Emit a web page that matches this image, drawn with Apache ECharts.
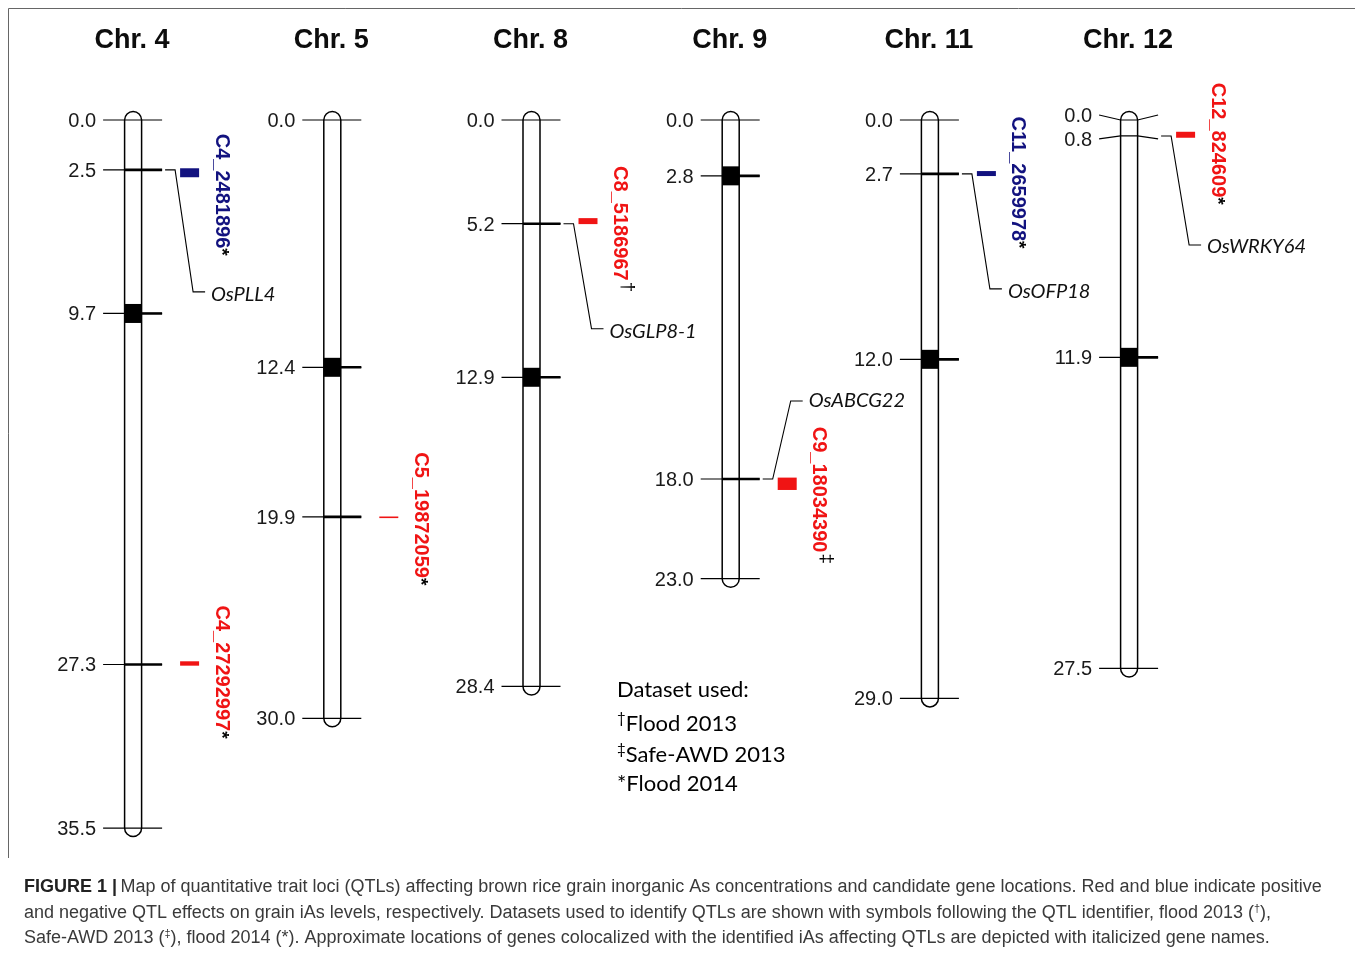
<!DOCTYPE html>
<html>
<head>
<meta charset="utf-8">
<script src="https://cdn.jsdelivr.net/npm/echarts/dist/echarts.min.js"></script>
<style>
  html, body { margin: 0; padding: 0; background: #fff; }
  #chart { width: 1355px; height: 955px; }
</style>
</head>
<body>
<div id="chart"></div>
<script>
// Chromosomes and their genetic lengths (cM)
const chromosomes = ['Chr. 4', 'Chr. 5', 'Chr. 8', 'Chr. 9', 'Chr. 11', 'Chr. 12'];
const chrLengths = [35.5, 30.0, 28.4, 23.0, 29.0, 27.5];
const centromeres = [9.7, 12.4, 12.9, 2.8, 12.0, 11.9];
// Labelled positions on each chromosome (cM)
const chrMarkers = [
  [0.0, 2.5, 9.7, 27.3, 35.5],
  [0.0, 12.4, 19.9, 30.0],
  [0.0, 5.2, 12.9, 28.4],
  [0.0, 2.8, 18.0, 23.0],
  [0.0, 2.7, 12.0, 29.0],
  [0.0, 0.8, 11.9, 27.5]
];
// QTL intervals (cM), effect sign and dataset symbol
const qtlNames = ['C4_2481896', 'C4_27292997', 'C5_19872059', 'C8_5186967', 'C9_18034390', 'C11_2659978', 'C12_824609'];
const qtlChr = [0, 0, 1, 2, 3, 4, 5];
const qtlStart = [2.42, 27.14, 19.88, 4.92, 17.93, 2.56, 0.59];
const qtlEnd = [2.87, 27.36, 19.96, 5.22, 18.55, 2.81, 0.89];
const qtlEffect = [-1, 1, 1, 1, 1, -1, 1];
const qtlDataset = ['*', '*', '*', '†', '‡', '*', '*'];
// Candidate genes
const geneNames = ['OsPLL4', 'OsGLP8-1', 'OsABCG22', 'OsOFP18', 'OsWRKY64'];
const geneChr = [0, 2, 3, 4, 5];
const genePos = [2.5, 5.2, 18.0, 2.7, 0.8];
// Dataset key
const datasetSymbols = ['', '†', '‡', '*'];
const datasetNames = ['Dataset used:', 'Flood 2013', 'Safe-AWD 2013', 'Flood 2014'];

// ---- layout (pixels) ----
const tickShift = { 5: [-5, 3, 0, 0] };          // spread crowded tick labels on Chr. 12
const qtlLabelTop = [-39, -58, -65, -55, -57, -57, -52];
const geneLabelDy = [122, 105, -78, 115, 109];
const geneTextDy = [3, 3, 0, 3, 2];
const RED = '#f01414';
const BLUE = '#12127f';
const SANS = '"Liberation Sans", Arial, sans-serif';
const HALF_W = 8.5;

function chrRender(params, api) {
  const i = params.dataIndex;
  const top = api.coord([i + 0.5, 0]);
  const cx = top[0];
  const y0 = top[1];
  const yEnd = api.coord([i + 0.5, chrLengths[i]])[1];
  const children = [];
  children.push({
    type: 'rect',
    shape: { x: cx - HALF_W, y: y0 - HALF_W, width: 2 * HALF_W, height: yEnd - y0 + 2 * HALF_W, r: HALF_W },
    style: { fill: '#fff', stroke: '#000', lineWidth: 1.5 }
  });
  const yc = api.coord([i + 0.5, centromeres[i]])[1];
  children.push({
    type: 'rect',
    shape: { x: cx - HALF_W, y: yc - 9.5, width: 2 * HALF_W, height: 19 },
    style: { fill: '#000' }
  });
  chrMarkers[i].forEach(function (m, k) {
    const y = api.coord([i + 0.5, m])[1];
    const shift = tickShift[i] ? tickShift[i][k] : 0;
    const yl = y + shift;
    const isEnd = m === 0 || m === chrLengths[i];
    children.push({
      type: 'polyline',
      shape: { points: [[cx - 30, yl], [cx - HALF_W, y], [cx + HALF_W, y], [cx + 29, yl]] },
      style: { stroke: '#000', lineWidth: 1.2, fill: 'none' }
    });
    if (!isEnd && !shift) {
      children.push({
        type: 'line',
        shape: { x1: cx - HALF_W, y1: y, x2: cx + 29, y2: y },
        style: { stroke: '#000', lineWidth: 2.6 }
      });
    }
    children.push({
      type: 'text', x: cx - 37, y: yl + 1.5,
      style: { text: m.toFixed(1), align: 'right', verticalAlign: 'middle', font: '20px ' + SANS, fill: '#1a1a1a' }
    });
  });
  children.push({
    type: 'text', x: cx - 1, y: y0 - 79,
    style: { text: chromosomes[i], align: 'center', verticalAlign: 'middle', font: 'bold 27px ' + SANS, fill: '#0d0d0d' }
  });
  return { type: 'group', children: children };
}

function qtlRender(params, api) {
  const q = params.dataIndex;
  const i = qtlChr[q];
  const p0 = api.coord([i + 0.5, qtlStart[q]]);
  const p1 = api.coord([i + 0.5, qtlEnd[q]]);
  const cx = p0[0];
  const color = qtlEffect[q] > 0 ? RED : BLUE;
  const sym = qtlDataset[q];
  const mid = (p0[1] + p1[1]) / 2;
  const symStyle = sym === '*'
    ? { fontSize: 19, fontWeight: 'bold', fontFamily: SANS, fill: '#000' }
    : { fontSize: 19, fontFamily: SANS, fill: '#000', padding: [0, 0, 16, 1] };
  return {
    type: 'group',
    children: [
      {
        type: 'rect',
        shape: { x: cx + 47, y: p0[1], width: 19, height: Math.max(p1[1] - p0[1], 1.5) },
        style: { fill: color }
      },
      {
        type: 'text', x: cx + 88, y: mid + qtlLabelTop[q], rotation: -Math.PI / 2,
        style: {
          text: '{n|' + qtlNames[q] + '}{s|' + sym + '}',
          align: 'left', verticalAlign: 'middle',
          rich: {
            n: { fontSize: 20, fontWeight: 'bold', fontFamily: SANS, fill: color },
            s: symStyle
          }
        }
      }
    ]
  };
}

function geneRender(params, api) {
  const g = params.dataIndex;
  const i = geneChr[g];
  const p = api.coord([i + 0.5, genePos[g]]);
  const cx = p[0];
  const y = p[1];
  const yl = y + geneLabelDy[g];
  return {
    type: 'group',
    children: [
      {
        type: 'polyline',
        shape: { points: [[cx + 32, y], [cx + 42, y], [cx + 60, yl], [cx + 72, yl]] },
        style: { stroke: '#000', lineWidth: 1.1, fill: 'none' }
      },
      {
        type: 'text', x: cx + 78, y: yl + geneTextDy[g],
        style: { text: geneNames[g], align: 'left', verticalAlign: 'middle', font: 'italic 20px Lato, sans-serif', fill: '#111' }
      }
    ]
  };
}

// Dataset key and caption as graphic text
const keyGraphics = datasetNames.map(function (name, k) {
  const sym = datasetSymbols[k];
  let text;
  if (sym === '*') text = '{t|*' + name + '}';
  else if (sym) text = '{s|' + sym + '}{t|' + name + '}';
  else text = '{t|' + name + '}';
  return {
    type: 'text', left: 617, top: 679 + k * 31.3,
    style: {
      text: text,
      rich: {
        t: { fontSize: 22, fontFamily: 'Lato, sans-serif', fill: '#000' },
        s: { fontSize: 15, fontFamily: 'Lato, sans-serif', fill: '#000', padding: [0, 0, 12, 0] }
      }
    }
  };
});

const captionLines = [
  '{b|FIGURE 1 |} {r|Map of quantitative trait loci (QTLs) affecting brown rice grain inorganic As concentrations and candidate gene locations. Red and blue indicate positive}',
  '{r|and negative QTL effects on grain iAs levels, respectively. Datasets used to identify QTLs are shown with symbols following the QTL identifier, flood 2013 (}{s|†}{r|),}',
  '{r|Safe-AWD 2013 (}{s|‡}{r|), flood 2014 (*). Approximate locations of genes colocalized with the identified iAs affecting QTLs are depicted with italicized gene names.}'
];
const captionGraphics = captionLines.map(function (line, k) {
  return {
    type: 'text', left: 24, top: 878 + k * 25.3,
    style: {
      text: line,
      rich: {
        b: { fontSize: 18, fontWeight: 'bold', fontFamily: SANS, fill: '#222' },
        r: { fontSize: 18, fontFamily: SANS, fill: '#3a3a3a' },
        s: { fontSize: 11, fontFamily: SANS, fill: '#3a3a3a', padding: [0, 0, 8, 0] }
      }
    }
  };
});

const chart = echarts.init(document.getElementById('chart'), null, { renderer: 'canvas' });
chart.setOption({
  animation: false,
  backgroundColor: '#fff',
  grid: { left: 33.5, width: 1195.2, top: 120, height: 718, containLabel: false },
  xAxis: { type: 'value', min: 0, max: 6, show: false },
  yAxis: { type: 'value', min: 0, max: 36, inverse: true, show: false },
  series: [
    {
      type: 'custom', name: 'chromosomes', clip: false,
      data: chromosomes.map(function (_, i) { return [i + 0.5, chrLengths[i]]; }),
      renderItem: chrRender
    },
    {
      type: 'custom', name: 'QTL', clip: false,
      data: qtlNames.map(function (_, q) { return [qtlChr[q] + 0.5, qtlStart[q], qtlEnd[q]]; }),
      renderItem: qtlRender
    },
    {
      type: 'custom', name: 'genes', clip: false,
      data: geneNames.map(function (_, g) { return [geneChr[g] + 0.5, genePos[g]]; }),
      renderItem: geneRender
    }
  ],
  graphic: [
    { type: 'line', shape: { x1: 8.5, y1: 8.5, x2: 1355, y2: 8.5 }, style: { stroke: '#666', lineWidth: 1 } },
    { type: 'line', shape: { x1: 8.5, y1: 8.5, x2: 8.5, y2: 858 }, style: { stroke: '#666', lineWidth: 1 } }
  ].concat(keyGraphics, captionGraphics)
});
</script>
</body>
</html>
